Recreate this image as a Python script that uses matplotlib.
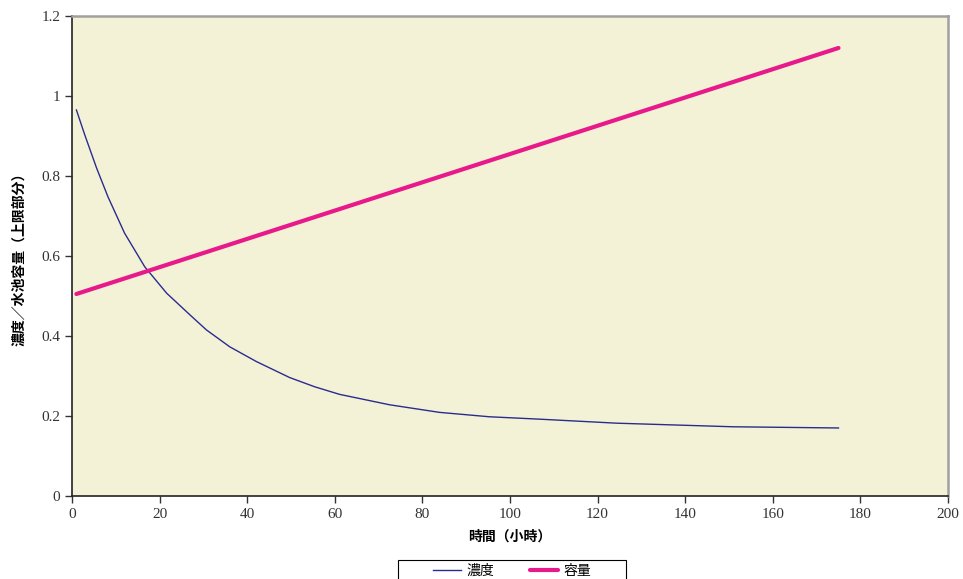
import matplotlib
matplotlib.use('Agg')
import matplotlib.pyplot as plt
from matplotlib.patches import Rectangle

# 日本語フォント
plt.rcParams['font.family'] = ['Liberation Serif', 'Noto Sans CJK JP']

# 濃度（時間ごと）
conc_hours = [1.0, 2.9, 5.6, 8.2, 12.0, 16.6, 21.6, 26.9, 30.7, 36.0, 42.1,
              49.7, 55.4, 61.1, 72.5, 83.9, 95.3, 106.8, 124.3, 150.9, 175]
conc_values = [0.965, 0.903, 0.82, 0.748, 0.657, 0.573, 0.507, 0.453, 0.415,
               0.373, 0.336, 0.296, 0.273, 0.254, 0.228, 0.209, 0.198, 0.192,
               0.182, 0.173, 0.170]

# 水池容量（上限部分）
vol_hours = [1, 18, 175]
vol_values = [0.505, 0.565, 1.12]

x_ticks = [0, 20, 40, 60, 80, 100, 120, 140, 160, 180, 200]
y_ticks = [0, 0.2, 0.4, 0.6, 0.8, 1, 1.2]
y_tick_labels = ['0', '0.2', '0.4', '0.6', '0.8', '1', '1.2']

fig = plt.figure(figsize=(9.63, 5.79), dpi=100)
ax = fig.add_axes([0.0748, 0.1434, 0.9096, 0.829])
ax.set_facecolor('#F4F2D6')

ax.plot(conc_hours, conc_values, color='#2B2B8F', linewidth=1.0, label='濃度')
ax.plot(vol_hours, vol_values, color='#E8198B', linewidth=3.0,
        solid_capstyle='round', label='容量')

ax.set_xlim(0, 200)
ax.set_ylim(0, 1.2)
ax.set_xticks(x_ticks)
ax.set_yticks(y_ticks)
ax.set_yticklabels(y_tick_labels)
ax.tick_params(direction='out', length=5, width=1, labelsize=11, colors='#333333')

for side in ['left', 'bottom']:
    ax.spines[side].set_color('#222222')
    ax.spines[side].set_linewidth(1.2)
for side in ['top', 'right']:
    ax.spines[side].set_color('#A0A0A0')
    ax.spines[side].set_linewidth(1.8)

ax.set_xlabel('時間（小時）', family=['Noto Sans CJK JP'], fontsize=10,
              fontweight='bold', labelpad=6)
ax.set_ylabel('濃度／水池容量（上限部分）', family=['Noto Sans CJK JP'], fontsize=10,
              fontweight='bold', labelpad=11)

# 凡例（下部、枠は図の下端で切れる）
fig.patches.append(Rectangle((398 / 963, -0.05), 228 / 963, 0.05 + 19 / 579,
                             transform=fig.transFigure, fill=False,
                             edgecolor='black', linewidth=0.8))
leg = fig.legend(loc='center', bbox_to_anchor=(512 / 963, 8 / 579), ncol=2,
                 frameon=False, borderaxespad=0,
                 prop={'family': 'Noto Sans CJK JP', 'size': 10},
                 handlelength=2.0, handletextpad=0.4, columnspacing=2.6)

fig.savefig('out.png', dpi=100)
